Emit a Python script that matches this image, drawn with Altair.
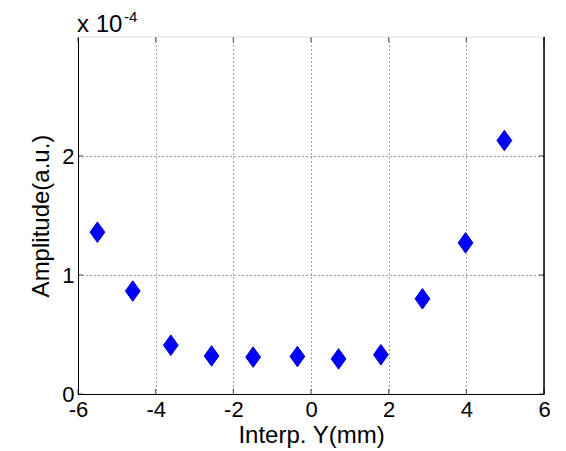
import altair as alt
import pandas as pd

# Data
interp_y = [-5.50, -4.59, -3.61, -2.56, -1.49, -0.35, 0.71, 1.80, 2.87, 3.98, 4.98]
amplitude_e4 = [1.36, 0.865, 0.41, 0.32, 0.31, 0.315, 0.295, 0.33, 0.80, 1.27, 2.13]
x_ticks = [-6, -4, -2, 0, 2, 4, 6]
y_ticks_e4 = [0, 1, 2]

df = pd.DataFrame({"x": interp_y, "y": [v * 1e-4 for v in amplitude_e4]})

xs = alt.Scale(domain=[-6, 6], nice=False, zero=False)
ys = alt.Scale(domain=[0, 3e-4], nice=False, zero=False)

FONT = "Liberation Sans"

x_axis = alt.Axis(
    values=x_ticks, title="Interp. Y(mm)", grid=True, gridDash=[1, 3], gridColor="#333",
    gridOpacity=0.9, domainColor="black", tickSize=0, labelPadding=5, labelFontSize=22,
    labelColor="black", titleFontSize=24, titleFontWeight="normal", titleColor="black",
    titlePadding=3, labelFont=FONT, titleFont=FONT, labelFlush=False,
    labelExpr="'' + datum.value",
)
y_axis = alt.Axis(
    values=[v * 1e-4 for v in y_ticks_e4], title="Amplitude(a.u.)", grid=True,
    gridDash=[1, 3], gridColor="#333", gridOpacity=0.9, domainColor="black", tickSize=0,
    labelPadding=4, labelFontSize=22, labelColor="black", titleFontSize=24,
    titleFontWeight="normal", titleColor="black", titlePadding=8, labelFont=FONT,
    titleFont=FONT, labelExpr="'' + round(datum.value*10000)", labelFlush=False,
)

diamond = "M0,-1L0.72,0L0,1L-0.72,0Z"

points = alt.Chart(df).mark_point(
    shape=diamond, filled=True, size=420, fill="#0000ff", stroke="#0000c8",
    strokeWidth=1, opacity=1,
).encode(
    x=alt.X("x:Q", scale=xs, axis=x_axis),
    y=alt.Y("y:Q", scale=ys, axis=y_axis),
)

# inward tick marks
xt = pd.DataFrame({"x": x_ticks})
yt = pd.DataFrame({"y": [v * 1e-4 for v in y_ticks_e4]})
tick_b = alt.Chart(xt).mark_tick(orient="vertical", size=5, yOffset=-2.5, color="black", thickness=1).encode(
    x=alt.X("x:Q", scale=xs), y=alt.datum(0, scale=ys))
tick_t = alt.Chart(xt).mark_tick(orient="vertical", size=5, yOffset=2.5, color="black", thickness=1).encode(
    x=alt.X("x:Q", scale=xs), y=alt.datum(3e-4, scale=ys))
tick_l = alt.Chart(yt).mark_tick(orient="horizontal", size=5, xOffset=2.5, color="black", thickness=1).encode(
    y=alt.Y("y:Q", scale=ys), x=alt.datum(-6, scale=xs))
tick_r = alt.Chart(yt).mark_tick(orient="horizontal", size=5, xOffset=-2.5, color="black", thickness=1).encode(
    y=alt.Y("y:Q", scale=ys), x=alt.datum(6, scale=xs))

right_border = alt.Chart(pd.DataFrame({"x": [6]})).mark_rule(color="black", strokeWidth=1.5).encode(
    x=alt.X("x:Q", scale=xs), y=alt.datum(0, scale=ys), y2=alt.datum(3e-4))
top_border = alt.Chart(pd.DataFrame({"y": [3e-4]})).mark_rule(color="#dddddd", strokeWidth=1).encode(
    y=alt.Y("y:Q", scale=ys), x=alt.datum(-6, scale=xs), x2=alt.datum(6))

exp_base = alt.Chart(pd.DataFrame({"t": ["x 10"]})).mark_text(
    align="left", baseline="alphabetic", dx=-1, dy=-5, fontSize=24, font=FONT, color="black"
).encode(text="t:N", x=alt.datum(-6, scale=xs), y=alt.datum(3e-4, scale=ys))
exp_sup = alt.Chart(pd.DataFrame({"t": ["-4"]})).mark_text(
    align="left", baseline="alphabetic", dx=46, dy=-15, fontSize=15, font=FONT, color="black"
).encode(text="t:N", x=alt.datum(-6, scale=xs), y=alt.datum(3e-4, scale=ys))

chart = alt.layer(
    tick_b, tick_t, tick_l, tick_r, top_border, right_border, points, exp_base, exp_sup
).properties(
    width=466, height=357,
    autosize=alt.AutoSizeParams(type="none"),
    padding={"left": 70, "top": 29, "right": 14, "bottom": 55},
    background="white",
).configure_view(stroke=None)

chart.save("out.html", embed_options={"renderer": "svg", "actions": False})
